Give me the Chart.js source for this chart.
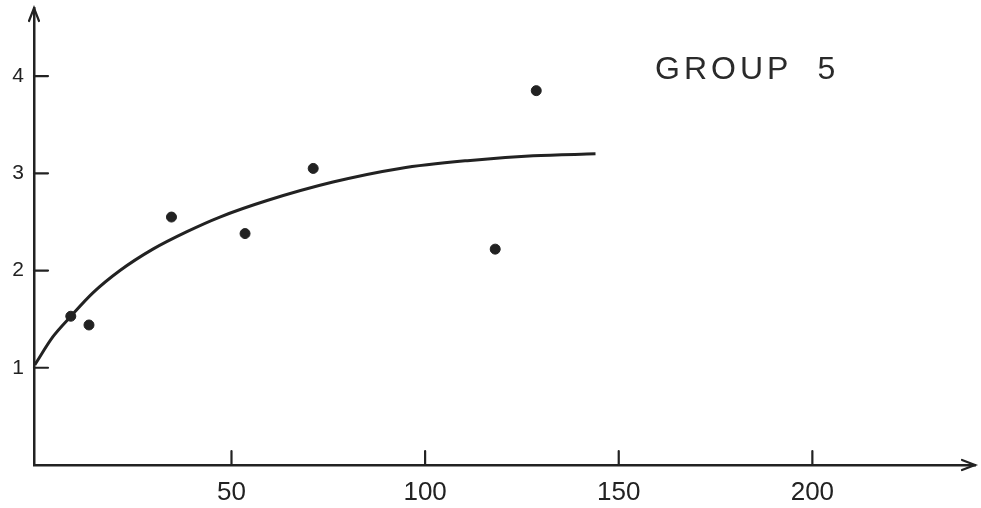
<!DOCTYPE html>
<html>
<head>
<meta charset="utf-8">
<script src="https://cdn.jsdelivr.net/npm/chart.js@4/dist/chart.umd.min.js"></script>
<style>
    html, body { margin: 0; padding: 0; background: #fff; }
    #wrap { position: relative; width: 981px; height: 508px; }
    #groupLabel {
        position: absolute; left: 655px; top: 50px;
        font-family: "Liberation Sans", sans-serif; font-size: 32px;
        letter-spacing: 4px; color: #2a2a2a; white-space: pre;
    }
</style>
</head>
<body>
<div id="wrap">
    <canvas id="groupChart" width="981" height="508"></canvas>
    <div id="groupLabel">GROUP  5</div>
</div>
<script>
// observed points
const obsX = [8.5, 13.2, 34.5, 53.5, 71.1, 118.1, 128.7];
const obsY = [1.53, 1.44, 2.55, 2.38, 3.05, 2.22, 3.85];

// hand-drawn fitted curve
const fitX = [-0.8, 3.9, 8.3, 14.2, 21.2, 29.7, 38.5, 47, 59.2, 76.2, 93.5, 110.9, 127.9, 144];
const fitY = [1.03, 1.32, 1.52, 1.77, 2.0, 2.22, 2.40, 2.55, 2.72, 2.91, 3.05, 3.13, 3.18, 3.20];

// tick labels
const xTicks = [50, 100, 150, 200];
const yTicks = [1, 2, 3, 4];

const ink = "#222";

// 📌 tick marks drawn inward + arrow heads on the axes
const axisMarks = {
    id: "axisMarks",
    afterDraw(chart) {
        const { ctx, chartArea, scales } = chart;
        const left = chartArea.left, bottom = chartArea.bottom;
        ctx.save();
        ctx.strokeStyle = ink;
        ctx.lineWidth = 2.2;
        ctx.lineCap = "round";
        xTicks.forEach((v) => {
            let px = scales.x.getPixelForValue(v);
            ctx.beginPath();
            ctx.moveTo(px, bottom);
            ctx.lineTo(px, bottom - 14);
            ctx.stroke();
        });
        yTicks.forEach((v) => {
            let py = scales.y.getPixelForValue(v);
            ctx.beginPath();
            ctx.moveTo(left, py);
            ctx.lineTo(left + 14, py);
            ctx.stroke();
        });
        // arrows
        ctx.beginPath();
        ctx.moveTo(left - 5, chartArea.top + 13);
        ctx.lineTo(left, chartArea.top);
        ctx.lineTo(left + 5, chartArea.top + 13);
        ctx.moveTo(chartArea.right - 13, bottom - 5);
        ctx.lineTo(chartArea.right, bottom);
        ctx.lineTo(chartArea.right - 13, bottom + 5);
        ctx.stroke();
        ctx.restore();
    }
};

new Chart(document.getElementById("groupChart"), {
    type: "scatter",
    data: {
        datasets: [
            {
                label: "fit",
                data: fitX.map((x, i) => ({ x: x, y: fitY[i] })),
                showLine: true,
                borderColor: ink,
                borderWidth: 3,
                pointRadius: 0,
                cubicInterpolationMode: "monotone",
                fill: false
            },
            {
                label: "observed",
                data: obsX.map((x, i) => ({ x: x, y: obsY[i] })),
                backgroundColor: ink,
                borderColor: ink,
                pointRadius: 5,
                pointHoverRadius: 5
            }
        ]
    },
    options: {
        responsive: false,
        animation: false,
        layout: { autoPadding: false, padding: { top: 8, right: 6, left: 0, bottom: 0 } },
        plugins: { legend: { display: false }, tooltip: { enabled: false } },
        scales: {
            x: {
                type: "linear",
                min: -1,
                max: 242,
                afterBuildTicks: (axis) => { axis.ticks = xTicks.map((v) => ({ value: v })); },
                afterFit: (axis) => {
                    axis.height = 43;
                    axis.paddingLeft = 0; axis.paddingRight = 0;
                },
                grid: { display: false, drawTicks: false },
                border: { display: true, color: ink, width: 2.5 },
                ticks: {
                    color: ink,
                    padding: 12,
                    font: { family: "Liberation Sans", size: 26 }
                }
            },
            y: {
                type: "linear",
                min: 0,
                max: 4.7,
                afterBuildTicks: (axis) => { axis.ticks = yTicks.map((v) => ({ value: v })); },
                afterFit: (axis) => {
                    axis.width = 34;
                    axis.paddingTop = 0; axis.paddingBottom = 0;
                },
                grid: { display: false, drawTicks: false },
                border: { display: true, color: ink, width: 2.5 },
                ticks: {
                    color: ink,
                    padding: 10,
                    font: { family: "Liberation Sans", size: 21 }
                }
            }
        }
    },
    plugins: [axisMarks]
});
</script>
</body>
</html>
